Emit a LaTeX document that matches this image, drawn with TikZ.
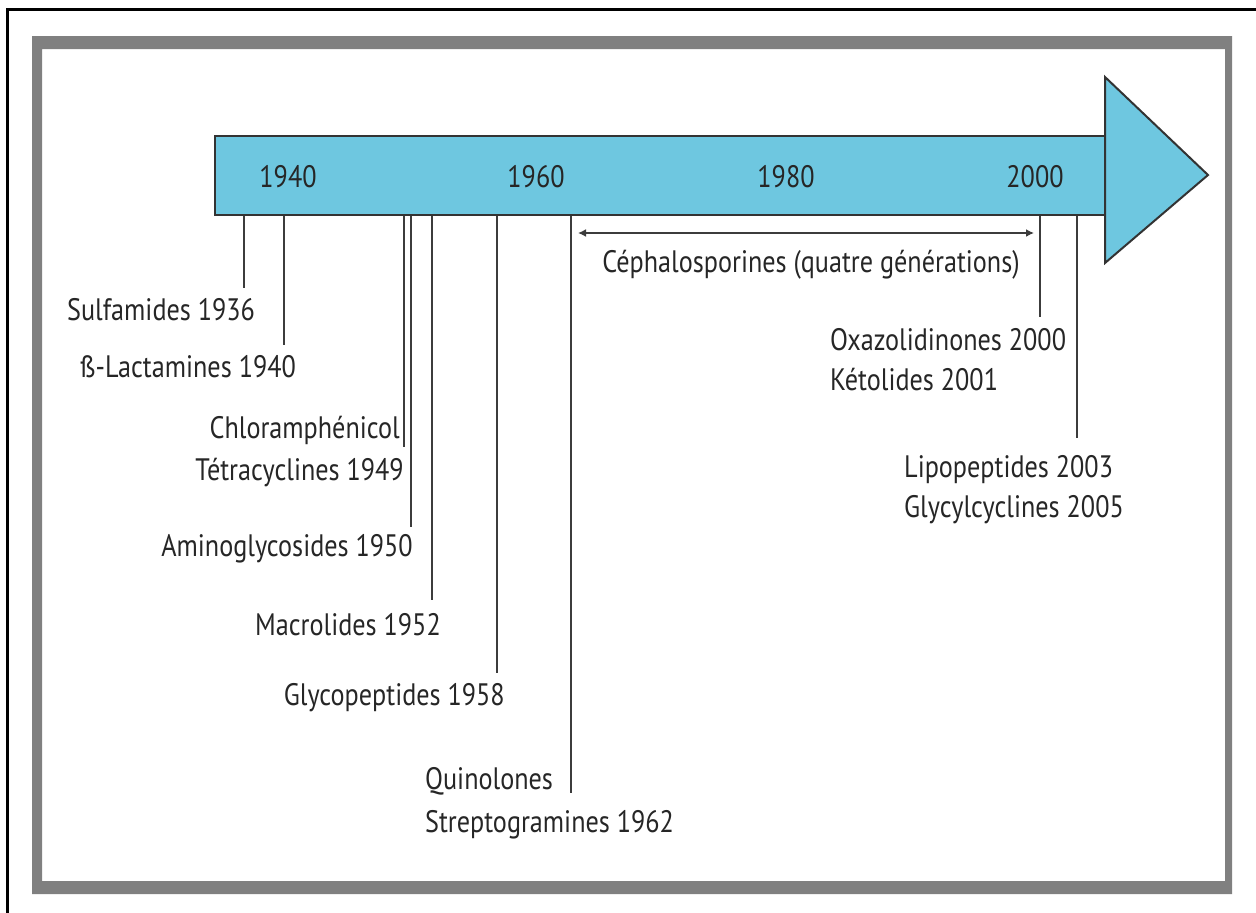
\documentclass[tikz,border=0pt]{standalone}
\usepackage{fontspec}
\setmainfont[FakeStretch=0.845]{PT Sans}
\usetikzlibrary{arrows.meta}
\definecolor{barblue}{RGB}{110,199,224}
\definecolor{framegray}{RGB}{128,128,128}
\definecolor{leader}{RGB}{60,60,60}
\tikzset{
  lbl/.style={inner sep=0pt, font=\fontsize{31}{37}\selectfont, text=black!85},
  lead/.style={draw=leader, line width=2pt},
}
\begin{document}
\begin{tikzpicture}[x=1pt,y=-1pt]
\useasboundingbox (0,0) rectangle (1256,913);
\fill[white] (0,0) rectangle (1256,913);
% outer black lines
\draw[line width=3pt] (7,913) -- (7,9) -- (1256,9);
% gray frame
\fill[framegray, even odd rule] (32,36) rectangle (1232,894) (42,49) rectangle (1225,881);
% timeline bar and head
\draw[fill=barblue, draw=black!80, line width=2pt] (215,136) rectangle (1105,215);
\draw[fill=barblue, draw=black!80, line width=2pt, line join=miter] (1105,77) -- (1208,175) -- (1105,263) -- cycle;
% years
\node[lbl, anchor=base] (y1940) at (288,187) {1940};
\node[lbl, anchor=base] (y1960) at (536,187) {1960};
\node[lbl, anchor=base] (y1980) at (786,187) {1980};
\node[lbl, anchor=base] (y2000) at (1035,187) {2000};
% leader line ends
\coordinate (t1936) at (244,216); \coordinate (e1936) at (244,288);
\coordinate (t1940) at (284,216); \coordinate (e1940) at (284,345);
\coordinate (t1949) at (404,216); \coordinate (e1949) at (404,447);
\coordinate (t1950) at (411,216); \coordinate (e1950) at (411,527);
\coordinate (t1952) at (432,216); \coordinate (e1952) at (432,600);
\coordinate (t1958) at (497,216); \coordinate (e1958) at (497,673);
\coordinate (t1962) at (571,216); \coordinate (e1962) at (571,793);
\coordinate (t2000) at (1040,216); \coordinate (e2000) at (1040,317);
\coordinate (t2003) at (1077,216); \coordinate (e2003) at (1077,438);
\draw[lead] (t1936) -- (e1936);
\draw[lead] (t1940) -- (e1940);
\draw[lead] (t1949) -- (e1949);
\draw[lead] (t1950) -- (e1950);
\draw[lead] (t1952) -- (e1952);
\draw[lead] (t1958) -- (e1958);
\draw[lead] (t1962) -- (e1962);
\draw[lead] (t2000) -- (e2000);
\draw[lead] (t2003) -- (e2003);
% cephalosporines arrow
\coordinate (cA) at (578,233);
\coordinate (cB) at (1034,233);
\draw[lead, {Latex[length=8pt,width=8pt]}-{Latex[length=8pt,width=8pt]}] (cA) -- (cB);
\node[lbl, anchor=base] (ceph) at (811,272) {Céphalosporines (quatre générations)};
% labels
\node[lbl, anchor=base west] (sulf) at (67,320) {Sulfamides 1936};
\node[lbl, anchor=base west] (blac) at (80,377) {ß-Lactamines 1940};
\node[lbl, anchor=base east] (chlo) at (400,438) {Chloramphénicol};
\node[lbl, anchor=base east] (tetr) at (404,480) {Tétracyclines 1949};
\node[lbl, anchor=base east] (amin) at (413,556) {Aminoglycosides 1950};
\node[lbl, anchor=base east] (macr) at (441,635) {Macrolides 1952};
\node[lbl, anchor=base east] (glyp) at (505,705) {Glycopeptides 1958};
\node[lbl, anchor=base west] (quin) at (425,789) {Quinolones};
\node[lbl, anchor=base west] (stre) at (425,832) {Streptogramines 1962};
\node[lbl, anchor=base west] (oxaz) at (830,350) {Oxazolidinones 2000};
\node[lbl, anchor=base west] (keto) at (830,390) {Kétolides 2001};
\node[lbl, anchor=base west] (lipo) at (904,477) {Lipopeptides 2003};
\node[lbl, anchor=base west] (glyc) at (904,517) {Glycylcyclines 2005};
\end{tikzpicture}
\end{document}
